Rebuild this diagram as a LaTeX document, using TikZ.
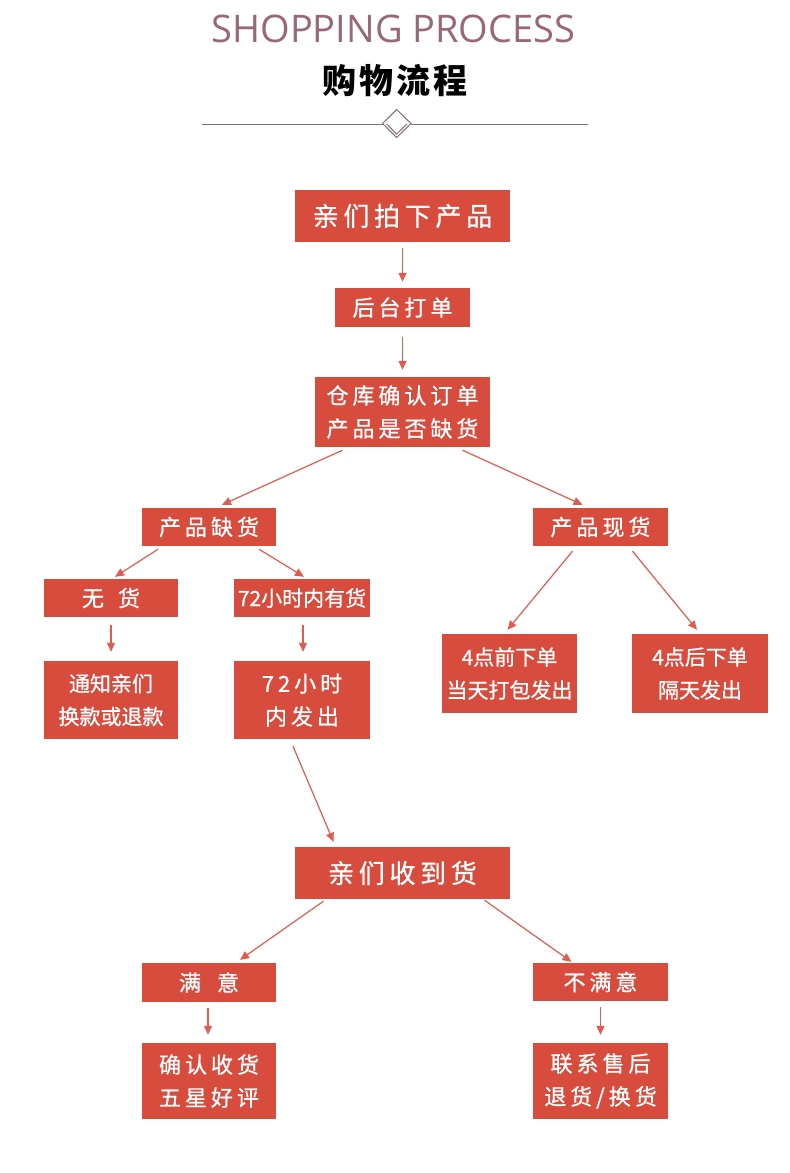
\documentclass[tikz,border=0pt]{standalone}
\usepackage{fontspec}
\setmainfont{Open Sans}
\newfontfamily\cjk[FakeBold=0.8]{Noto Sans CJK SC}
\newfontfamily\cjkwide[LetterSpace=18,FakeBold=0.8]{Noto Sans CJK SC}
\newfontfamily\cjktitle[LetterSpace=8]{Noto Sans CJK SC}
\usetikzlibrary{arrows.meta}
\definecolor{boxred}{RGB}{216,76,62}
\definecolor{arrowred}{RGB}{224,92,80}
\definecolor{titlemauve}{RGB}{152,104,118}
\definecolor{rulegray}{RGB}{128,108,114}
\tikzstyle{pbox}=[rectangle,fill=boxred,text=white,inner sep=0pt,align=center]
\tikzstyle{bigtext}=[font=\cjkwide\fontsize{26pt}{33pt}\selectfont]
\tikzstyle{midtext}=[font=\cjkwide\fontsize{22pt}{33pt}\selectfont]
\tikzstyle{smalltext}=[font=\cjk\fontsize{21pt}{33pt}\selectfont]
\tikzstyle{arrow}=[-{Triangle[length=9pt,width=8pt]},line width=1.2pt,draw=arrowred]

\begin{document}
\begin{tikzpicture}[x=1pt,y=-1pt]
  \useasboundingbox[fill=white] (0,0) rectangle (790,1173);

  % heading
  \node[font=\fontsize{38pt}{38pt}\selectfont,text=titlemauve] (entitle) at (393.5,28.5) {SHOPPING PROCESS};
  \node[font=\cjktitle\bfseries\fontsize{34pt}{34pt}\selectfont] (cntitle) at (395,81) {购物流程};
  \draw[rulegray,line width=1pt] (202,124) -- (382.5,124) (411,124) -- (588,124);
  \draw[rulegray,line width=1pt] (396.7,109.5) -- (411,123.5) -- (396.7,137.5) -- (382.5,123.5) -- cycle;
  \draw[rulegray,line width=1pt] (386.5,124) -- (396.7,134) -- (407,124);

  % boxes
  \node[pbox,bigtext,minimum width=215pt,minimum height=52pt] (paixia) at (402.5,216) {亲们拍下产品};
  \node[pbox,midtext,minimum width=135pt,minimum height=39pt] (houtai) at (402.5,307.5) {后台打单};
  \node[pbox,midtext,minimum width=175pt,minimum height=70pt] (cangku) at (402.5,412) {仓库确认订单\\产品是否缺货};
  \node[pbox,midtext,minimum width=134pt,minimum height=38pt] (quehuo) at (209,527) {产品缺货};
  \node[pbox,midtext,minimum width=135pt,minimum height=38pt] (xianhuo) at (600.5,527) {产品现货};
  \node[pbox,midtext,minimum width=134pt,minimum height=38pt] (wuhuo) at (111,598) {无\hspace{14pt}货};
  \node[pbox,smalltext,minimum width=136pt,minimum height=38pt] (youhuo) at (302,598) {72小时内有货};
  \node[pbox,smalltext,minimum width=134pt,minimum height=78pt] (tongzhi) at (111,700) {通知亲们\\换款或退款};
  \node[pbox,midtext,minimum width=136pt,minimum height=78pt] (fachu) at (302,700) {72小时\\内发出};
  \node[pbox,smalltext,minimum width=135pt,minimum height=79pt] (qianxia) at (509.5,673.5) {4点前下单\\当天打包发出};
  \node[pbox,smalltext,minimum width=136pt,minimum height=79pt] (houxia) at (700,673.5) {4点后下单\\隔天发出};
  \node[pbox,bigtext,minimum width=215pt,minimum height=52pt] (shoudao) at (402.5,873) {亲们收到货};
  \node[pbox,midtext,minimum width=134pt,minimum height=39pt] (manyi) at (209,982.5) {满\hspace{16pt}意};
  \node[pbox,midtext,minimum width=135pt,minimum height=38pt] (buman) at (600.5,982) {不满意};
  \node[pbox,midtext,minimum width=134pt,minimum height=76pt] (queren) at (209,1081) {确认收货\\五星好评};
  \node[pbox,midtext,minimum width=135pt,minimum height=76pt] (lianxi) at (600.5,1081) {联系售后\\退货/换货};

  % arrows
  \draw[arrow] ([yshift=-6pt]paixia.south) -- ([yshift=6pt]houtai.north);
  \draw[arrow] ([yshift=-10pt]houtai.south) -- ([yshift=7pt]cangku.north);
  \draw[arrow] ([xshift=-60pt,yshift=-3pt]cangku.south) -- ([xshift=13pt,yshift=3pt]quehuo.north);
  \draw[arrow] ([xshift=60pt,yshift=-3pt]cangku.south) -- ([xshift=-18pt,yshift=3pt]xianhuo.north);
  \draw[arrow] ([xshift=-51pt,yshift=-3pt]quehuo.south) -- ([xshift=4pt,yshift=2pt]wuhuo.north);
  \draw[arrow] ([xshift=50pt,yshift=-3pt]quehuo.south) -- ([xshift=2pt,yshift=2pt]youhuo.north);
  \draw[arrow] ([yshift=-8pt]wuhuo.south) -- ([yshift=9pt]tongzhi.north);
  \draw[arrow] ([xshift=1pt,yshift=-8pt]youhuo.south) -- ([xshift=1pt,yshift=9pt]fachu.north);
  \draw[arrow] ([xshift=-28pt,yshift=-5pt]xianhuo.south) -- ([xshift=-2pt,yshift=4pt]qianxia.north);
  \draw[arrow] ([xshift=32pt,yshift=-5pt]xianhuo.south) -- ([xshift=-3pt,yshift=4pt]houxia.north);
  \draw[arrow] ([xshift=-9pt,yshift=-7pt]fachu.south) -- ([xshift=-69pt,yshift=5pt]shoudao.north);
  \draw[arrow] ([xshift=-79pt,yshift=-2pt]shoudao.south) -- ([xshift=31pt,yshift=3pt]manyi.north);
  \draw[arrow] ([xshift=82pt,yshift=-1pt]shoudao.south) -- ([xshift=-29pt,yshift=1pt]buman.north);
  \draw[arrow] ([xshift=-1pt,yshift=-6pt]manyi.south) -- ([xshift=-1pt,yshift=8pt]queren.north);
  \draw[arrow] ([yshift=-6pt]buman.south) -- ([yshift=8pt]lianxi.north);
\end{tikzpicture}
\end{document}
